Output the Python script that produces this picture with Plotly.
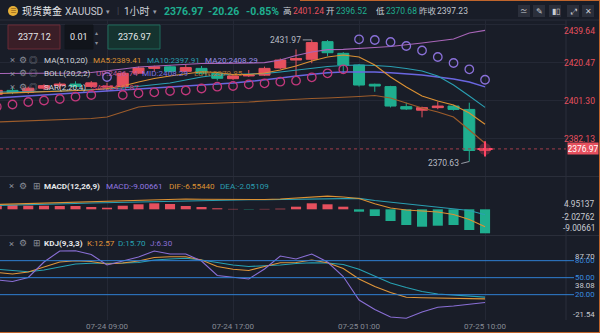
import plotly.graph_objects as go

# ---------------- data ----------------
bar_idx = list(range(32))
time_ticks = [7, 15, 23, 31]
time_labels = ["07-24 09:00", "07-24 17:00", "07-25 01:00", "07-25 10:00"]

opens = [2404.5, 2406.5, 2405.5, 2407.6, 2408.9, 2409.7, 2408.5, 2408.2, 2408.4, 2415.2,
         2417.6, 2418.4, 2416.1, 2417.6, 2415.1, 2412.4, 2413.8, 2414.2, 2417.8, 2421.8,
         2422.2, 2431.1, 2425.2, 2419.3, 2409.6, 2408.4, 2398.3, 2396.5, 2397.8, 2398.6,
         2396.9, 2376.3]
highs = [2407.5, 2408.0, 2408.4, 2409.6, 2410.6, 2411.1, 2411.2, 2410.4, 2415.6, 2418.5,
         2419.0, 2419.2, 2419.5, 2418.8, 2415.9, 2414.5, 2416.8, 2418.5, 2422.6, 2427.2,
         2431.97, 2431.9, 2425.8, 2419.8, 2409.9, 2408.8, 2400.3, 2398.3, 2400.8, 2399.2,
         2400.3, 2377.5]
lows = [2403.0, 2404.6, 2404.8, 2406.6, 2407.4, 2407.9, 2407.6, 2406.0, 2407.6, 2414.8,
        2416.0, 2415.5, 2415.6, 2414.5, 2411.5, 2411.8, 2413.3, 2413.8, 2417.3, 2413.4,
        2420.2, 2423.8, 2415.3, 2408.4, 2405.8, 2397.9, 2396.6, 2392.9, 2397.0, 2396.3,
        2370.63, 2375.9]
closes = [2406.5, 2405.4, 2407.6, 2408.9, 2409.7, 2408.5, 2410.3, 2408.5, 2415.1, 2417.8,
          2418.4, 2416.1, 2418.0, 2415.1, 2412.6, 2413.8, 2414.3, 2417.6, 2421.8, 2422.6,
          2430.6, 2425.5, 2419.3, 2409.2, 2408.7, 2398.6, 2397.1, 2397.8, 2398.6, 2396.9,
          2376.2, 2376.97]

ma5 = [2404.93, 2405.18, 2405.43, 2405.69, 2405.94, 2406.19, 2406.69, 2407.45, 2408.71, 2410.73,
       2412.50, 2413.76, 2415.02, 2415.93, 2415.52, 2414.51, 2414.51, 2415.27, 2416.78, 2418.80,
       2421.33, 2423.34, 2424.35, 2423.34, 2419.31, 2413.25, 2408.21, 2403.67, 2401.15, 2399.13,
       2395.09, 2389.41]
ma10 = [2405.69, 2405.69, 2405.84, 2405.94, 2406.19, 2406.44, 2406.69, 2407.20, 2407.70, 2408.46,
        2409.22, 2410.23, 2411.74, 2413.25, 2414.26, 2414.51, 2414.77, 2415.02, 2415.78, 2416.78,
        2417.79, 2418.55, 2419.06, 2419.31, 2419.06, 2418.55, 2417.54, 2416.28, 2413.76, 2409.22,
        2403.67, 2397.91]
ma20 = [2402.66, 2403.16, 2403.67, 2404.17, 2404.68, 2405.18, 2405.69, 2406.19, 2406.69, 2407.20,
        2407.70, 2408.06, 2408.71, 2409.22, 2409.72, 2410.23, 2410.98, 2411.74, 2412.75, 2413.76,
        2414.77, 2415.42, 2415.78, 2415.93, 2415.78, 2415.42, 2415.02, 2414.26, 2413.25, 2412.24,
        2410.73, 2408.29]
boll_up = [2415.02, 2415.02, 2415.12, 2415.27, 2415.27, 2415.27, 2415.52, 2416.28, 2417.29, 2418.30,
           2418.80, 2419.06, 2419.56, 2420.06, 2420.17, 2420.32, 2420.32, 2420.47, 2421.83, 2424.10,
           2425.87, 2427.03, 2427.23, 2427.53, 2428.14, 2428.64, 2429.40, 2430.41, 2431.42, 2432.42,
           2435.45, 2436.74]
boll_low = [2390.55, 2390.80, 2391.31, 2391.56, 2391.81, 2392.06, 2392.32, 2393.07, 2395.60, 2398.12,
            2398.88, 2399.13, 2399.38, 2399.63, 2399.88, 2400.14, 2400.64, 2401.15, 2401.65, 2402.00,
            2402.41, 2402.66, 2402.91, 2403.42, 2403.92, 2402.66, 2400.14, 2397.61, 2395.60, 2393.07,
            2386.51, 2379.85]
sar = [2398.27, 2399.38, 2400.64, 2401.40, 2402.16, 2403.32, 2404.17, 2413.25, 2404.17, 2405.03,
       2405.54, 2406.19, 2406.44, 2407.45, 2408.36, 2408.71, 2409.57, 2410.08, 2410.88, 2411.39,
       2413.10, 2415.12, 2417.14, 2432.27, 2431.92, 2430.91, 2428.89, 2426.62, 2423.34, 2420.32,
       2417.14, 2411.87]

macd_hist = [1.61, 1.61, 1.35, 1.35, 1.24, 1.24, 0.86, 0.60, 1.35, 1.88,
             2.25, 1.99, 1.24, 0.86, 0.38, 0.15, -0.12, 0.15, 0.23, 0.98,
             2.25, 1.88, 0.98, -0.90, -2.51, -4.39, -5.89, -6.53, -6.15, -5.89,
             -7.77, -9.00661]
dif = [1.80, 1.99, 2.18, 2.36, 2.55, 2.74, 2.93, 3.00, 3.11, 3.38,
       3.68, 3.86, 3.86, 3.75, 3.68, 3.68, 3.60, 3.68, 3.86, 4.24,
       4.80, 4.95137, 4.62, 4.05, 2.05, 0.49, -0.26, -0.64, -1.01, -1.95,
       -3.83, -6.55440]
dea = [1.43, 1.54, 1.69, 1.84, 2.00, 2.19, 2.38, 2.50, 2.60, 2.80,
       3.00, 3.20, 3.35, 3.41, 3.45, 3.52, 3.57, 3.61, 3.66, 3.76,
       3.98, 4.01, 4.13, 4.10, 3.30, 2.69, 1.99, 1.43, 0.86, 0.30,
       -0.45, -2.05109]

k_line = [59.12, 56.47, 60.00, 68.82, 77.65, 79.94, 78.53, 74.12, 75.88, 79.41,
          85.59, 87.00, 87.00, 81.18, 69.71, 64.76, 62.65, 69.71, 76.41, 76.76,
          81.18, 76.41, 66.18, 47.65, 34.41, 23.82, 15.35, 14.65, 14.12, 13.59,
          12.88, 12.57]
d_line = [64.76, 62.65, 60.53, 63.53, 68.82, 74.12, 75.35, 75.35, 75.88, 76.76,
          81.18, 82.94, 84.18, 81.18, 76.76, 72.35, 69.71, 70.59, 72.35, 75.00,
          76.41, 75.88, 73.24, 64.76, 52.06, 40.59, 32.65, 25.59, 21.18, 19.41,
          18.18, 15.70]
j_line = [45.88, 43.24, 50.29, 77.65, 97.06, 97.59, 90.88, 72.35, 79.41, 86.47,
          97.06, 91.76, 91.76, 79.41, 53.82, 51.18, 47.65, 65.29, 88.24, 82.94,
          91.76, 77.65, 52.06, 10.59, -6.18, -19.41, -21.54, -10.59, -2.29, 0.00,
          3.53, 6.30]

price_ticks = [2439.64, 2420.47, 2401.30, 2382.13, 2362.96]
macd_labels = ["4.95137", "-2.02762", "-9.00661"]
kdj_levels = [80.00, 50.00, 20.00]
kdj_extra = [87.70, 38.08, -21.54]

last_price = 2376.97
bid_price = "2377.12"
ask_price = "2376.97"
lot_size = "0.01"

# ---------------- styling ----------------
W, H = 600, 333
BG = "#191d28"
GRID = "#242835"
SEP = "#2a2e3a"
RED = "#e6505e"
GREEN = "#1fae8f"
C_MA5 = "#dc9133"
C_MA10 = "#2a9fb2"
C_MA20 = "#6a66e0"
C_UP = "#a865b8"
C_LOW = "#9d5c2b"
C_SAR_UP = "#c2387c"
C_SAR_DN = "#8a70d8"
C_K = "#e0963a"
C_D = "#27a2b3"
C_J = "#8a6fd6"
C_LEVEL = "#2f7fd2"
TXT = "#d2d5dc"
MUTED = "#8a8e98"
FRAME = "#c0652c"
FONT = "Roboto, 'Noto Sans CJK SC', sans-serif"

PLOT_R = 566  # right edge of the plotting area, px


def fx(p):
    return p / W


def fy(p):
    return 1 - p / H


fig = go.Figure()

# ---------------- main price panel ----------------
fig.add_trace(go.Candlestick(
    x=bar_idx, open=opens, high=highs, low=lows, close=closes,
    increasing=dict(line=dict(color=RED, width=1), fillcolor=RED),
    decreasing=dict(line=dict(color=GREEN, width=1), fillcolor=GREEN),
    whiskerwidth=0, xaxis="x", yaxis="y", hoverinfo="skip"))

for series, col, wd in [(boll_up, C_UP, 1.2), (boll_low, C_LOW, 1.2), (ma20, C_MA20, 1.4),
                        (ma10, C_MA10, 1.1), (ma5, C_MA5, 1.1)]:
    fig.add_trace(go.Scatter(x=bar_idx, y=series, mode="lines",
                             line=dict(color=col, width=wd), xaxis="x", yaxis="y",
                             hoverinfo="skip"))

sar_colors = [C_SAR_DN if s > c else C_SAR_UP for s, c in zip(sar, closes)]
fig.add_trace(go.Scatter(x=bar_idx, y=sar, mode="markers",
                         marker=dict(symbol="circle-open", size=8.5, color=sar_colors,
                                     line=dict(width=1.3)),
                         xaxis="x", yaxis="y", hoverinfo="skip"))

# cursor marker on the latest price
fig.add_trace(go.Scatter(x=[bar_idx[-1]], y=[last_price], mode="markers",
                         marker=dict(symbol="circle", size=12, color="rgba(255,70,100,0.28)"),
                         xaxis="x", yaxis="y", hoverinfo="skip"))
fig.add_trace(go.Scatter(x=[bar_idx[-1]], y=[last_price], mode="markers",
                         marker=dict(symbol="cross-thin", size=11, color="#ff4564",
                                     line=dict(width=2, color="#ff4564")),
                         xaxis="x", yaxis="y", hoverinfo="skip"))

# ---------------- MACD panel ----------------
fig.add_trace(go.Bar(x=bar_idx, y=macd_hist, width=0.64,
                     marker=dict(color=[RED if v >= 0 else GREEN for v in macd_hist],
                                 line=dict(width=0)),
                     xaxis="x2", yaxis="y2", hoverinfo="skip"))
fig.add_trace(go.Scatter(x=bar_idx, y=dea, mode="lines", line=dict(color=C_MA10, width=1.1),
                         xaxis="x2", yaxis="y2", hoverinfo="skip"))
fig.add_trace(go.Scatter(x=bar_idx, y=dif, mode="lines", line=dict(color=C_MA5, width=1.1),
                         xaxis="x2", yaxis="y2", hoverinfo="skip"))

# ---------------- KDJ panel ----------------
for series, col in [(d_line, C_D), (k_line, C_K), (j_line, C_J)]:
    fig.add_trace(go.Scatter(x=bar_idx, y=series, mode="lines", line=dict(color=col, width=1.1),
                             xaxis="x3", yaxis="y3", hoverinfo="skip"))

# ---------------- shapes ----------------
shapes = []
# panel separators and right axis border
for yp in (20, 176.5, 235.5):
    shapes.append(dict(type="line", xref="paper", yref="paper", x0=0, x1=1,
                       y0=fy(yp), y1=fy(yp), line=dict(color=SEP, width=1), layer="below"))
shapes.append(dict(type="line", xref="paper", yref="paper", x0=fx(PLOT_R), x1=fx(PLOT_R),
                   y0=fy(320), y1=fy(20), line=dict(color=SEP, width=1), layer="below"))
# window frame
shapes.append(dict(type="line", xref="paper", yref="paper", x0=0, x1=1, y0=fy(332.5), y1=fy(332.5),
                   line=dict(color=FRAME, width=1)))
shapes.append(dict(type="line", xref="paper", yref="paper", x0=fx(300), x1=1, y0=fy(0.5), y1=fy(0.5),
                   line=dict(color=FRAME, width=1)))
shapes.append(dict(type="line", xref="paper", yref="paper", x0=fx(599.5), x1=fx(599.5), y0=0, y1=1,
                   line=dict(color=FRAME, width=1)))
# last price dotted line
shapes.append(dict(type="line", xref="paper", yref="y", x0=0, x1=fx(PLOT_R),
                   y0=last_price, y1=last_price, line=dict(color="#a33d4b", width=1, dash="dot")))
# KDJ reference levels
for lv in kdj_levels:
    shapes.append(dict(type="line", xref="paper", yref="y3", x0=0, x1=fx(574),
                       y0=lv, y1=lv, line=dict(color=C_LEVEL, width=1)))
# order boxes
shapes.append(dict(type="rect", xref="paper", yref="paper", x0=fx(8), x1=fx(60),
                   y0=fy(49), y1=fy(25), fillcolor="#3a1e27", line=dict(color="#6a2a37", width=1)))
shapes.append(dict(type="rect", xref="paper", yref="paper", x0=fx(65), x1=fx(93),
                   y0=fy(49), y1=fy(25), fillcolor="#11141b", line=dict(color="#11141b", width=1)))
shapes.append(dict(type="rect", xref="paper", yref="paper", x0=fx(108), x1=fx(160),
                   y0=fy(49), y1=fy(25), fillcolor="#15332f", line=dict(color="#1e6a5b", width=1)))
# gold badge
shapes.append(dict(type="circle", xref="paper", yref="paper", x0=fx(8), x1=fx(18),
                   y0=fy(16), y1=fy(6), fillcolor="#e7b038", line=dict(width=0)))
# toolbar buttons
for x0 in (518, 533, 549, 567, 582):
    shapes.append(dict(type="rect", xref="paper", yref="paper", x0=fx(x0), x1=fx(x0 + 12),
                       y0=fy(17), y1=fy(5), fillcolor="#2b2f3b", line=dict(width=0)))

# ---------------- annotations ----------------
ann = []


def text(x, y, s, color=TXT, size=8, anchor="left", bold=False):
    ann.append(dict(xref="paper", yref="paper", x=fx(x), y=fy(y), text=f"<b>{s}</b>" if bold else s,
                    showarrow=False, xanchor=anchor, yanchor="middle",
                    font=dict(size=size, color=color, family=FONT)))


# header
text(13, 11, "≡", "#7a4a10", 7, "center")
text(20, 11, "现货黄金", "#e8e9ec", 10)
text(63, 11, "XAUUSD", "#c9ccd3", 10)
text(104, 12, "▾", "#9a9ea8", 7)
text(115, 11, "|", "#4a4e58", 9)
text(122, 11, "1小时", "#d0d3da", 10)
text(151, 12, "▾", "#9a9ea8", 7)
text(162, 11, "2376.97", GREEN, 10.5, bold=True)
text(206, 11, "-20.26", GREEN, 10.5, bold=True)
text(244, 11, "-0.85%", GREEN, 10.5, bold=True)
text(281, 11, "高", "#d0d3da", 8.5)
text(291, 11, "2401.24", RED, 8.5)
text(324, 11, "开", "#d0d3da", 8.5)
text(334, 11, "2396.52", GREEN, 8.5)
text(374, 11, "低", "#d0d3da", 8.5)
text(384, 11, "2370.68", GREEN, 8.5)
text(417, 11, "昨收", "#c0c4cc", 8.5)
text(435, 11, "2397.23", "#c0c4cc", 8.5)
for cx, g in zip((524, 539, 555.5, 573, 588), ("≃", "✎", "▮▯", "⤢", "✕")):
    text(cx, 11, g, "#c9ccd3", 7.5, "center")

# order boxes
text(34, 37, bid_price, "#e6e7ea", 9, "center")
text(79, 37, lot_size, "#e6e7ea", 9, "center")
text(97, 32, "▴", "#8a8e98", 6, "center")
text(97, 42, "▾", "#8a8e98", 6, "center")
text(134, 37, ask_price, "#e6e7ea", 9, "center")

# indicator legends
LG = 8.1
for yrow in (59.5, 73.5, 86.7):
    text(12.7, yrow, "×", MUTED, 9.5, "center")
    text(23.3, yrow, "⚙", MUTED, 8.5, "center")
    text(33.3, yrow, "◎", MUTED, 8.5, "center")
text(42, 59.5, "MA(5,10,20)", TXT, LG)
text(91, 59.5, "MA5:2389.41", C_MA5, LG)
text(145, 59.5, "MA10:2397.91", C_MA10, LG)
text(203, 59.5, "MA20:2408.29", "#9a8fe6", LG)
text(42, 73.5, "BOLL(20,2,2)", TXT, LG)
text(94, 73.5, "UP:2436.74", "#c05a9e", LG)
text(140, 73.5, "MID:2408.29", "#7c72e0", LG)
text(192, 73.5, "LOW:2379.85", "#b07030", LG)
text(42, 86.7, "SAR(2,20,4)", TXT, LG)
text(90, 86.7, "SAR:2411.87", "#cf3f72", LG)

for yrow in (186, 243.3):
    text(11.7, yrow, "×", MUTED, 9.5, "center")
    text(23.3, yrow, "⚙", MUTED, 8.5, "center")
    text(36.7, yrow, "⊞", MUTED, 8.5, "center")
text(42, 186, "MACD(12,26,9)", "#e6e7ea", LG, bold=True)
text(104, 186, "MACD:-9.00661", "#9479e2", LG)
text(167, 186, "DIF:-6.55440", C_MA5, LG)
text(218, 186, "DEA:-2.05109", C_MA10, LG)
text(42, 243.3, "KDJ(9,3,3)", "#e6e7ea", LG, bold=True)
text(85, 243.3, "K:12.57", C_K, LG)
text(116, 243.3, "D:15.70", C_D, LG)
text(148, 243.3, "J:6.30", C_J, LG)

# right-hand price scale
for i, v in enumerate(price_ticks):
    shift = -6 if i == 0 else (5.5 if i == len(price_ticks) - 1 else 0)
    ann.append(dict(xref="paper", yref="y", x=fx(597), y=v, text=f"{v:.2f}", showarrow=False,
                    xanchor="right", yanchor="middle", yshift=shift,
                    font=dict(size=8.5, color=RED if v > last_price else GREEN, family=FONT)))
ann.append(dict(xref="paper", yref="y", x=fx(582.5), y=last_price, text=f"{last_price:.2f}",
                showarrow=False, xanchor="center", yanchor="middle", bgcolor=RED,
                width=30, height=11, borderpad=0,
                font=dict(size=8.5, color="#ffffff", family=FONT)))

# MACD scale labels
for lab, yp in zip(macd_labels, (204, 216.7, 228.3)):
    text(597, yp, lab, "#c9ccd3", 8.3, "right")

# KDJ scale labels
KF = 7.8
for v in kdj_levels:
    ann.append(dict(xref="paper", yref="y3", x=fx(597), y=v, text=f"{v:.2f}", showarrow=False,
                    xanchor="right", yanchor="middle",
                    font=dict(size=KF, color="#3a8ee0", family=FONT)))
for v in kdj_extra:
    ann.append(dict(xref="paper", yref="y3", x=fx(597), y=v, text=f"{v:.2f}", showarrow=False,
                    xanchor="right", yanchor="middle", yshift=3.5 if v < 0 else (-1.5 if v < 50 else 0),
                    font=dict(size=KF, color="#c9ccd3", family=FONT)))

# high / low markers
hi_i = highs.index(max(highs))
lo_i = lows.index(min(lows))
ann.append(dict(xref="x", yref="y", x=bar_idx[hi_i], y=highs[hi_i], text=f"{highs[hi_i]:.2f}",
                showarrow=True, arrowhead=0, arrowwidth=1, arrowcolor="#9a9ea8",
                ax=-9, ay=0, xanchor="right", yanchor="middle",
                font=dict(size=8.5, color="#b8bcc4", family=FONT)))
ann.append(dict(xref="x", yref="y", x=bar_idx[lo_i], y=lows[lo_i], text=f"{lows[lo_i]:.2f}",
                showarrow=True, arrowhead=0, arrowwidth=1, arrowcolor="#9a9ea8",
                ax=-8, ay=2, xanchor="right", yanchor="middle",
                font=dict(size=8.5, color="#b8bcc4", family=FONT)))

# ---------------- axes & layout ----------------
xcommon = dict(range=[0.206, 36.14], domain=[0, fx(PLOT_R)], tickvals=time_ticks,
               showgrid=True, gridcolor=GRID, gridwidth=1, zeroline=False, showline=False,
               ticks="", fixedrange=True)

fig.update_layout(
    width=W, height=H, margin=dict(l=0, r=0, t=0, b=0),
    paper_bgcolor=BG, plot_bgcolor=BG, showlegend=False, hovermode=False,
    font=dict(family=FONT, color=TXT),
    boxgap=0.3, boxgroupgap=0,
    xaxis=dict(**xcommon, anchor="y", showticklabels=False, rangeslider=dict(visible=False)),
    xaxis2=dict(**xcommon, anchor="y2", matches="x", showticklabels=False),
    xaxis3=dict(**xcommon, anchor="y3", matches="x", showticklabels=True, ticktext=time_labels,
                tickfont=dict(size=8, color="#868a94")),
    yaxis=dict(domain=[fy(176), fy(20)], range=[2363.31, 2442.01], side="right",
               tickvals=price_ticks, showticklabels=False, showgrid=True, gridcolor=GRID,
               zeroline=False, fixedrange=True),
    yaxis2=dict(domain=[fy(235), fy(177)], range=[-9.64, 12.12], side="right",
                showticklabels=False, showgrid=False, zeroline=False, fixedrange=True),
    yaxis3=dict(domain=[fy(320), fy(236)], range=[-24.71, 123.53], side="right",
                showticklabels=False, showgrid=False, zeroline=False, fixedrange=True),
    shapes=shapes,
    annotations=ann,
)

fig.write_html("out.html", config={"displayModeBar": False, "staticPlot": True})
